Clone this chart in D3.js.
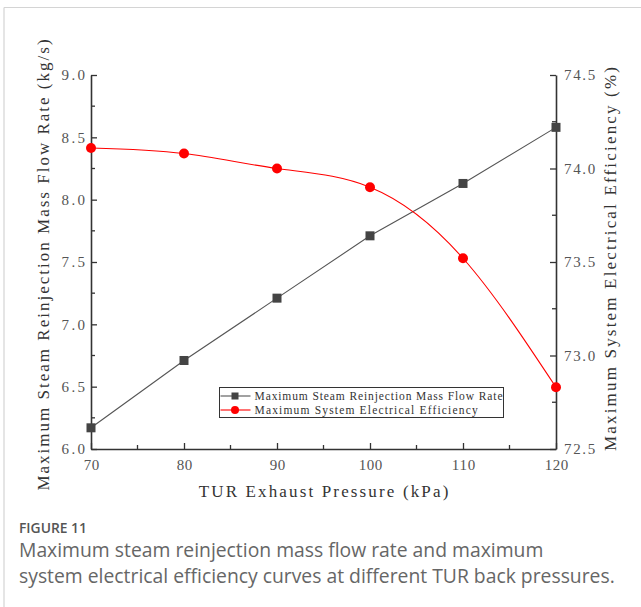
<!DOCTYPE html>
<html>
<head>
<meta charset="utf-8">
<script src="https://cdn.jsdelivr.net/npm/d3@7"></script>
<style>
  html, body { margin: 0; padding: 0; background: #fff; }
  svg { display: block; }
  .serif { font-family: "Liberation Serif", "DejaVu Serif", serif; }
</style>
</head>
<body>
<svg id="chart" width="641" height="607"></svg>
<script>
// TUR exhaust pressure (kPa)
const pressure = [70, 80, 90, 100, 110, 120];
// Maximum steam reinjection mass flow rate (kg/s), left axis
const massFlow = [6.17, 6.71, 7.21, 7.71, 8.13, 8.58];
// Maximum system electrical efficiency (%), right axis
const efficiency = [74.11, 74.08, 74.00, 73.90, 73.52, 72.83];

const xTicks = [70, 80, 90, 100, 110, 120];
const yLeftTicks = [6.0, 6.5, 7.0, 7.5, 8.0, 8.5, 9.0];
const yRightTicks = [72.5, 73.0, 73.5, 74.0, 74.5];

const seriesNames = [
  "Maximum Steam Reinjection Mass Flow Rate",
  "Maximum System Electrical Efficiency"
];

const svg = d3.select("#chart");

// fixed-pitch look: each character gets the same advance
function pitch(sel, perChar) {
  sel.each(function () {
    const n = this.textContent.length;
    d3.select(this).attr("textLength", n * perChar).attr("lengthAdjust", "spacing");
  });
}

// frame lines around the figure panel
svg.append("line").attr("x1", 4).attr("x2", 641).attr("y1", 7.5).attr("y2", 7.5)
  .attr("stroke", "#d4d4d4").attr("stroke-width", 1.2);
svg.append("line").attr("x1", 4).attr("x2", 4).attr("y1", 7.5).attr("y2", 607)
  .attr("stroke", "#d4d4d4").attr("stroke-width", 1.2);

const L = 91, R = 556, T = 75, B = 449;

const x = d3.scaleLinear().domain([70, 120]).range([L, R]);
const yL = d3.scaleLinear().domain([6.0, 9.0]).range([B, T]);
const yR = d3.scaleLinear().domain([72.5, 74.5]).range([B, T]);

const axisColor = "#333";
const labelColor = "#555";

function styleAxis(g) {
  g.attr("font-family", null).attr("font-size", null);
  g.select(".domain").attr("stroke", axisColor).attr("stroke-width", 1.6);
  g.selectAll(".tick line").attr("stroke", axisColor).attr("stroke-width", 1.3);
  g.selectAll(".tick text").attr("fill", labelColor).attr("class", "serif")
    .style("font-size", "15px").call(pitch, 7.8);
}

// minor ticks (midpoints between major ticks)
function minor(ticks) {
  const m = [];
  for (let i = 0; i < ticks.length - 1; i++) m.push((ticks[i] + ticks[i + 1]) / 2);
  return m;
}

// bottom axis, ticks pointing inward
const gx = svg.append("g").attr("transform", `translate(0,${B})`)
  .call(d3.axisBottom(x).tickValues(xTicks).tickFormat(d3.format("d"))
    .tickSizeInner(-6).tickSizeOuter(0).tickPadding(10));
styleAxis(gx);
gx.selectAll(".tick text").attr("dy", "0.71em").attr("y", 10);
gx.append("g").selectAll("line").data(minor(xTicks)).join("line")
  .attr("x1", d => x(d)).attr("x2", d => x(d)).attr("y1", 0).attr("y2", -4)
  .attr("stroke", axisColor).attr("stroke-width", 1.3);

// left axis
const gl = svg.append("g").attr("transform", `translate(${L},0)`)
  .call(d3.axisLeft(yL).tickValues(yLeftTicks).tickFormat(d3.format(".1f"))
    .tickSizeInner(-6).tickSizeOuter(0).tickPadding(8));
styleAxis(gl);
gl.selectAll(".tick text").attr("x", -6);
gl.append("g").selectAll("line").data(minor(yLeftTicks)).join("line")
  .attr("x1", 0).attr("x2", 4).attr("y1", d => yL(d)).attr("y2", d => yL(d))
  .attr("stroke", axisColor).attr("stroke-width", 1.3);

// right axis
const gr = svg.append("g").attr("transform", `translate(${R},0)`)
  .call(d3.axisRight(yR).tickValues(yRightTicks).tickFormat(d3.format(".1f"))
    .tickSizeInner(-6).tickSizeOuter(0).tickPadding(8));
styleAxis(gr);
gr.selectAll(".tick text").attr("x", 8);
gr.append("g").selectAll("line").data(minor(yRightTicks)).join("line")
  .attr("x1", 0).attr("x2", -4).attr("y1", d => yR(d)).attr("y2", d => yR(d))
  .attr("stroke", axisColor).attr("stroke-width", 1.3);

// axis titles
svg.append("text").attr("class", "serif").attr("x", (L + R) / 2).attr("y", 497)
  .attr("text-anchor", "middle").attr("fill", "#333")
  .style("font-size", "17px")
  .text("TUR Exhaust Pressure (kPa)").call(pitch, 9.6);

svg.append("text").attr("class", "serif")
  .attr("transform", `translate(49,${(T + B) / 2 + 3}) rotate(-90)`)
  .attr("text-anchor", "middle").attr("fill", "#333")
  .style("font-size", "17px")
  .text("Maximum Steam Reinjection Mass Flow Rate (kg/s)").call(pitch, 9.6);

svg.append("text").attr("class", "serif")
  .attr("transform", `translate(616,${(T + B) / 2 - 3}) rotate(-90)`)
  .attr("text-anchor", "middle").attr("fill", "#333")
  .style("font-size", "17px")
  .text("Maximum System Electrical Efficiency (%)").call(pitch, 9.6);

// mass flow series: straight segments with square markers
const flowData = pressure.map((p, i) => [p, massFlow[i]]);
svg.append("path").datum(flowData)
  .attr("fill", "none").attr("stroke", "#555").attr("stroke-width", 1.1)
  .attr("d", d3.line().x(d => x(d[0])).y(d => yL(d[1])));
svg.append("g").selectAll("rect").data(flowData).join("rect")
  .attr("x", d => x(d[0]) - 4.5).attr("y", d => yL(d[1]) - 4.5)
  .attr("width", 9).attr("height", 9).attr("fill", "#444");

// efficiency series: smooth curve with circle markers
const effData = pressure.map((p, i) => [p, efficiency[i]]);
svg.append("path").datum(effData)
  .attr("fill", "none").attr("stroke", "#ff0000").attr("stroke-width", 1.1)
  .attr("d", d3.line().curve(d3.curveNatural).x(d => x(d[0])).y(d => yR(d[1])));
svg.append("g").selectAll("circle").data(effData).join("circle")
  .attr("cx", d => x(d[0])).attr("cy", d => yR(d[1])).attr("r", 5)
  .attr("fill", "#ff0000");

// legend
const lg = svg.append("g").attr("transform", "translate(219.5,387.5)");
lg.append("rect").attr("width", 284).attr("height", 30)
  .attr("fill", "#fff").attr("stroke", "#333").attr("stroke-width", 1);
const rows = [
  { name: seriesNames[0], color: "#555", mark: "square" },
  { name: seriesNames[1], color: "#ff0000", mark: "circle" }
];
rows.forEach((r, i) => {
  const cy = 8.5 + i * 14;
  lg.append("line").attr("x1", 1).attr("x2", 31).attr("y1", cy).attr("y2", cy)
    .attr("stroke", r.color).attr("stroke-width", 1.1);
  if (r.mark === "square") {
    lg.append("rect").attr("x", 12).attr("y", cy - 3.5).attr("width", 7).attr("height", 7)
      .attr("fill", "#444");
  } else {
    lg.append("circle").attr("cx", 15.5).attr("cy", cy).attr("r", 4).attr("fill", "#ff0000");
  }
  lg.append("text").attr("class", "serif").attr("x", 35).attr("y", cy).attr("dy", "0.35em")
    .attr("fill", "#333").style("font-size", "11.5px")
    .text(r.name).call(pitch, 6.2);
});

// caption, font sized from the width of its longer line
const sans = "'Open Sans', Lato, sans-serif";
const figLabel = svg.append("text").attr("x", 19).attr("y", 533).attr("fill", "#555")
  .style("font-family", sans).style("font-size", "14px").style("font-weight", 600)
  .text("FIGURE 11");
const cap1 = svg.append("text").attr("x", 19).attr("y", 557).attr("fill", "#666")
  .style("font-family", sans).style("font-size", "17px")
  .text("Maximum steam reinjection mass flow rate and maximum");
const cap2 = svg.append("text").attr("x", 19).attr("y", 583).attr("fill", "#666")
  .style("font-family", sans).style("font-size", "17px")
  .text("system electrical efficiency curves at different TUR back pressures.");
const capSize = 17 * 596 / cap2.node().getComputedTextLength();
cap1.style("font-size", capSize + "px");
cap2.style("font-size", capSize + "px");
const figSize = 14 * 68 / figLabel.node().getComputedTextLength();
figLabel.style("font-size", figSize + "px");
</script>
</body>
</html>
